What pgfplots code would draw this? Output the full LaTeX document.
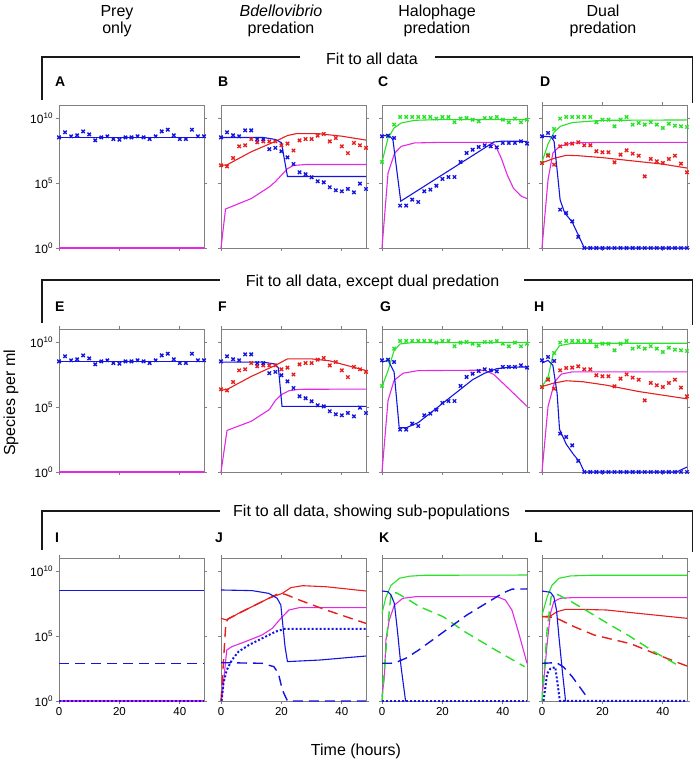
\documentclass[border=0pt]{standalone}
\usepackage{fontspec}
\setmainfont{Liberation Sans}
\usepackage{pgfplots}
\pgfplotsset{compat=1.18}
\usepackage{pgfplotstable}

\definecolor{colB}{RGB}{20,20,225}
\definecolor{colR}{RGB}{232,30,30}
\definecolor{colG}{RGB}{40,225,40}
\definecolor{colM}{RGB}{228,40,228}
\definecolor{colF}{RGB}{128,128,128}

\newcommand\tp[1]{10\raisebox{5pt}{\fontsize{8}{8}\selectfont #1}}

\pgfplotsset{
  panel/.style={scale only axis, width=145pt, height=143pt, xmin=0, xmax=48, ymin=0, ymax=11,
    axis line style={colF, line width=0.9pt}, tick style={colF, line width=0.8pt},
    tick align=outside, major tick length=3pt,
    xtick={0,20,40}, ytick={0,5,10}, xticklabels={}, yticklabels={},
    clip=false, anchor=south west},
  ylab/.style={yticklabels={\tp{0},\tp{5},\tp{10}}, yticklabel style={font=\fontsize{12}{12}\selectfont}},
  xlab/.style={xticklabels={0,20,40}, xticklabel style={font=\fontsize{11.5}{12}\selectfont}},
  datpt/.style={only marks, mark=x, mark size=2.4pt, mark options={line width=1.35pt, solid}},
  fitln/.style={no marks, solid, line width=1.1pt},
  dashln/.style={no marks, line width=1.4pt, dash pattern=on 10pt off 6pt},
  dotln/.style={no marks, line width=2pt, dash pattern=on 2pt off 2pt},
}

% measured data (log10 of species per ml)
\pgfplotstableread{
t b
0 8.51
2 8.90
4 8.59
6 8.67
8 8.97
10 8.74
12 8.28
14 8.51
16 8.59
18 8.38
20 8.33
22 8.51
24 8.51
26 8.59
28 8.51
30 8.38
32 8.59
34 8.97
36 9.10
38 8.67
40 8.38
42 8.38
44 9.10
46 8.59
48 8.59
}\datA

\pgfplotstableread{
t b r
0 8.51 6.36
2 8.90 6.28
4 8.67 6.92
6 8.59 7.82
8 9.05 7.90
10 9.05 8.38
12 8.38 8.13
14 8.38 8.20
16 7.60 8.20
18 7.70 8.20
20 7.44 7.90
22 6.97 8.03
24 6.46 7.50
26 5.82 8.28
28 5.67 8.38
30 5.44 8.38
32 5.13 8.64
34 5.05 8.77
36 4.67 8.20
38 4.44 8.46
40 4.36 7.82
42 4.54 7.30
44 4.28 8.08
46 4.95 7.90
48 4.54 7.70
}\datB

\pgfplotstableread{
t g b
0 6.62 8.59
2 8.60 8.64
4 9.49 8.46
6 10.08 3.26
8 10.08 3.26
10 10.08 3.72
12 10.08 3.54
14 10.08 4.36
16 10.08 4.49
18 9.95 4.79
20 10.08 5.31
22 10.08 5.46
24 9.67 5.46
26 9.95 6.62
28 10.00 7.31
30 9.87 7.56
32 9.74 7.77
34 10.00 7.90
36 10.00 7.82
38 10.08 7.74
40 9.87 8.08
42 9.67 8.08
44 9.95 8.08
46 9.67 8.21
48 9.87 8.03
}\datC

\pgfplotstableread{
t g b r
0 6.54 8.59 6.54
2 7.18 8.85 7.10
4 9.15 8.54 6.41
6 9.95 2.95 7.82
8 10.08 2.69 8.00
10 10.08 2.05 8.03
12 10.08 0.85 8.13
14 10.08 0 7.90
16 10.08 0 7.90
18 9.67 0 7.44
20 9.87 0 7.36
22 9.87 0 7.36
24 9.36 0 6.59
26 9.87 0 7.18
28 10.08 0 7.51
30 9.49 0 7.26
32 9.62 0 7.10
34 9.49 0 5.51
36 9.67 0 6.85
38 9.49 0 6.67
40 9.23 0 6.54
42 9.56 0 6.85
44 9.41 0 7.10
46 9.36 0 6.49
48 9.31 0 5.82
}\datD

\begin{document}
\begin{tikzpicture}[x=1pt,y=1pt]
\useasboundingbox (0,0) rectangle (696,760);

% ---------------- Row 1 ----------------
\begin{axis}[panel, ylab, xtick pos=left, at={(59pt,512pt)}]
\addplot[fitln, colM] coordinates {(0,0)(48,0)};
\addplot[fitln, colB] coordinates {(0,8.5)(48,8.5)};
\addplot[datpt, colB] table[x=t,y=b]{\datA};
\end{axis}

\begin{axis}[panel, xtick pos=left, at={(221pt,512pt)}]
\addplot[fitln, colM] coordinates {(0,0)(1.5,3.0)(10,3.8)(16,4.7)(18,5.1)(20,5.6)(22,6.1)(24,6.35)(28,6.42)(48,6.42)};
\addplot[fitln, colR] coordinates {(0,6.35)(2,6.4)(10,7.4)(18,8.2)(22,8.65)(25,8.8)(32,8.8)(40,8.6)(48,8.3)};
\addplot[fitln, colB] coordinates {(0,8.5)(14,8.5)(18,8.35)(20,8.1)(22,5.5)(48,5.5)};
\addplot[datpt, colR] table[x=t,y=r]{\datB};
\addplot[datpt, colB] table[x=t,y=b]{\datB};
\end{axis}

\begin{axis}[panel, xtick pos=left, at={(382pt,512pt)}]
\addplot[fitln, colM] coordinates {(0,0)(2,5.77)(4.2,7.3)(6.4,7.82)(10.8,8.08)(20,8.13)(36,8.13)(37.5,7.9)(39.5,6.9)(41.5,5.6)(43.5,4.6)(46,4.0)(48,3.8)};
\addplot[fitln, colG] coordinates {(0,6.62)(2,8.46)(4,9.23)(6.4,9.62)(10.8,9.82)(17.4,9.87)(48,9.87)};
\addplot[fitln, colB] coordinates {(0,8.6)(2,8.7)(3.6,8.35)(6.2,3.6)(34,7.7)(37,8.15)(40,8.22)(48,8.2)};
\addplot[datpt, colG] table[x=t,y=g]{\datC};
\addplot[datpt, colB] table[x=t,y=b]{\datC};
\end{axis}

\begin{axis}[panel, at={(542pt,512pt)}]
\addplot[fitln, colM] coordinates {(0,0)(2,5.26)(3.6,7.3)(5.8,7.82)(10,8.08)(20,8.13)(48,8.13)};
\addplot[fitln, colR] coordinates {(0,6.55)(4,6.9)(8,7.13)(12,7.1)(20,6.95)(30,6.7)(40,6.45)(48,6.15)};
\addplot[fitln, colG] coordinates {(0,6.6)(2,8.0)(4,8.9)(6,9.35)(10,9.65)(20,9.82)(48,9.85)};
\addplot[fitln, colB] coordinates {(0,8.6)(3,8.55)(4,8.2)(5,6.0)(6,3.7)(7.5,2.7)(10,2.0)(12,1.0)(14,0)(48,0)};
\addplot[datpt, colG] table[x=t,y=g]{\datD};
\addplot[datpt, colR] table[x=t,y=r]{\datD};
\addplot[datpt, colB] table[x=t,y=b]{\datD};
\end{axis}

% ---------------- Row 2 ----------------
\begin{axis}[panel, ylab, at={(59pt,288pt)}]
\addplot[fitln, colM] coordinates {(0,0)(48,0)};
\addplot[fitln, colB] coordinates {(0,8.5)(48,8.5)};
\addplot[datpt, colB] table[x=t,y=b]{\datA};
\end{axis}

\begin{axis}[panel, at={(221pt,288pt)}]
\addplot[fitln, colM] coordinates {(0,0)(2,3.2)(10,3.9)(16,4.8)(18,5.5)(20,5.95)(22.5,6.25)(26,6.36)(48,6.38)};
\addplot[fitln, colR] coordinates {(0,6.3)(2,6.35)(10,7.35)(18,8.2)(22,8.7)(30,8.7)(36,8.55)(40,8.3)(48,7.8)};
\addplot[fitln, colB] coordinates {(0,8.45)(14,8.45)(18,8.3)(19,8.0)(20.2,5.05)(48,5.05)};
\addplot[datpt, colR] table[x=t,y=r]{\datB};
\addplot[datpt, colB] table[x=t,y=b]{\datB};
\end{axis}

\begin{axis}[panel, at={(382pt,288pt)}]
\addplot[fitln, colM] coordinates {(0,0)(2,5.5)(4,7.05)(7,7.6)(12,7.8)(34,7.83)(37,7.5)(42,6.4)(48,5.05)};
\addplot[fitln, colG] coordinates {(0,6.57)(2,7.8)(4,9.35)(6,9.85)(10,9.95)(48,9.97)};
\addplot[fitln, colB] coordinates {(0,8.45)(2,8.6)(4,7.7)(5.7,3.4)(8,3.4)(12,3.8)(18,4.9)(24,6.0)(30,7.1)(34,7.6)(38,7.95)(42,8.05)(48,8.08)};
\addplot[datpt, colG] table[x=t,y=g]{\datC};
\addplot[datpt, colB] table[x=t,y=b]{\datC};
\end{axis}

\begin{axis}[panel, at={(542pt,288pt)}]
\addplot[fitln, colM] coordinates {(0,0)(2,5.05)(4.2,6.94)(6.4,7.53)(10,7.7)(48,7.7)};
\addplot[fitln, colR] coordinates {(0,6.57)(3.6,6.82)(8,7.02)(13.6,6.94)(21,6.69)(32,6.19)(48,5.63)};
\addplot[fitln, colG] coordinates {(0,6.57)(2,7.3)(3.6,8.97)(5.8,9.72)(10,9.9)(48,9.9)};
\addplot[fitln, colB] coordinates {(0,8.38)(2,8.59)(3.6,8.2)(5,6.06)(5.8,3.28)(8,2.15)(10.3,1.39)(12.5,0.76)(14,0)(44.5,0)(48,0.38)};
\addplot[datpt, colG] table[x=t,y=g]{\datD};
\addplot[datpt, colR] table[x=t,y=r]{\datD};
\addplot[datpt, colB] table[x=t,y=b]{\datD};
\end{axis}

% ---------------- Row 3 ----------------
\begin{axis}[panel, ylab, xlab, at={(59pt,59pt)}]
\addplot[fitln, colM] coordinates {(0,0)(48,0)};
\addplot[dotln, colB] coordinates {(0,0)(48,0)};
\addplot[dashln, colB] coordinates {(0,2.9)(48,2.9)};
\addplot[fitln, colB] coordinates {(0,8.49)(48,8.49)};
\end{axis}

\begin{axis}[panel, xlab, at={(221pt,59pt)}]
\addplot[fitln, colM] coordinates {(0.2,0)(1.9,3.92)(3.6,4.18)(8,4.56)(13.6,5.08)(17,5.59)(19.8,6.36)(22.5,7.0)(25.9,7.18)(48,7.18)};
\addplot[fitln, colR] coordinates {(0,6.36)(1.9,6.23)(5.8,6.74)(10.3,7.26)(15.8,7.9)(20.3,8.28)(23.1,8.72)(27,8.87)(34.8,8.79)(48,8.46)};
\addplot[dashln, colR] coordinates {(0,0)(0.8,3.0)(1.6,5.97)(2.2,6.3)(5.8,6.74)(10.3,7.26)(15.8,7.9)(19.2,8.28)(21.4,8.2)(25.9,7.77)(34.8,7.0)(48,5.97)};
\addplot[dotln, colB] coordinates {(0.2,0)(0.8,1.36)(1.9,2.38)(3.6,3.15)(5.8,3.8)(9.2,4.3)(13.6,4.82)(18,5.33)(20.9,5.54)(48,5.54)};
\addplot[dashln, colB] coordinates {(0,2.95)(13.6,2.9)(17.5,2.64)(19,2.13)(20.3,0.85)(22,0)(48,0)};
\addplot[fitln, colB] coordinates {(0,8.54)(10.3,8.49)(15.8,8.28)(18.6,7.9)(19.8,7.38)(20.3,6.23)(21.2,4.18)(22,3.03)(32.6,3.15)(48,3.46)};
\end{axis}

\begin{axis}[panel, xlab, at={(382pt,59pt)}]
\addplot[fitln, colM] coordinates {(0,0.33)(0.8,1.9)(1.3,4.7)(2.4,6.23)(4.1,7.38)(6.9,7.9)(11.3,8.03)(38,8.03)(40.8,7.77)(43,7.0)(45.3,5.2)(48,2.9)};
\addplot[fitln, colG] coordinates {(0,6.74)(1.3,8.0)(3,8.9)(5.8,9.44)(9.1,9.6)(14,9.67)(48,9.69)};
\addplot[dashln, colG] coordinates {(0,0)(0.8,2.4)(1.9,5.7)(3,8.28)(4.7,8.33)(8,7.9)(12.4,7.26)(20.2,6.49)(27.4,5.33)(37,4.0)(47.2,2.64)};
\addplot[dotln, colB] coordinates {(0,0)(48,0)};
\addplot[dashln, colB] coordinates {(0,2.9)(3,2.9)(5,3.0)(8,3.3)(12,3.9)(28,6.6)(40,8.3)(43,8.6)(48,8.62)};
\addplot[fitln, colB] coordinates {(0,8.46)(1.9,8.41)(3,8.15)(4.1,7.5)(5.2,5.2)(6.3,2.64)(7.8,0)};
\end{axis}

\begin{axis}[panel, xlab, at={(542pt,59pt)}]
\addplot[fitln, colM] coordinates {(0,0.5)(0.5,1.3)(1.7,4.4)(2.8,6.74)(3.9,7.64)(6,7.9)(10,7.95)(48,7.95)};
\addplot[fitln, colR] coordinates {(0,6.49)(2.8,6.54)(5,6.87)(7.8,7.05)(12.8,7.05)(21.4,7.0)(29.4,6.8)(48,6.36)};
\addplot[dashln, colR] coordinates {(0,6.49)(3.9,6.44)(6.1,6.23)(10.6,5.72)(17.2,5.08)(29.4,4.4)(40,3.4)(48,2.69)};
\addplot[fitln, colG] coordinates {(0,6.6)(1.7,8.0)(3.3,8.9)(5.6,9.44)(9.4,9.62)(16,9.67)(48,9.67)};
\addplot[dashln, colG] coordinates {(0,0)(0.8,2.5)(1.7,5.5)(3,8.0)(4.2,8.28)(6,8.1)(10,7.6)(14.4,7.0)(22.2,5.9)(28.9,5.0)(37,3.8)(45.8,2.64)};
\addplot[dotln, colB] coordinates {(0.5,0)(1.7,2.1)(2.8,2.5)(4.4,2.6)(5,1.6)(5.9,0)(48,0)};
\addplot[dashln, colB] coordinates {(0,2.9)(4.8,2.95)(7.2,2.6)(10,1.87)(14.4,0.46)};
\addplot[fitln, colB] coordinates {(0,8.46)(2.8,8.36)(3.9,8.03)(4.8,7.0)(5.6,4.95)(6.7,2.38)(7.8,0)};
\end{axis}

% ---------------- Texts ----------------
\begin{scope}[font=\fontsize{16}{18}\selectfont]
\node[anchor=base] at (117,743.3) {Prey};
\node[anchor=base] at (117,726.7) {only};
\node[anchor=base] at (281,743.3) {\textit{Bdellovibrio}};
\node[anchor=base] at (281,726.7) {predation};
\node[anchor=base] at (437,743.3) {Halophage};
\node[anchor=base] at (437,726.7) {predation};
\node[anchor=base] at (603,743.3) {Dual};
\node[anchor=base] at (603,726.7) {predation};

\node[anchor=base] at (372,695) {Fit to all data};
\node[anchor=base] at (372.5,473.3) {Fit to all data, except dual predation};
\node[anchor=base] at (371.5,243) {Fit to all data, showing sub-populations};

\node[rotate=90] at (11,357) {Species per ml};
\node[anchor=base] at (356,5) {Time (hours)};
\end{scope}

\begin{scope}[line width=1.5pt, black!90]
\draw (42,660) -- (42,703) -- (300,703);
\draw (435,703) -- (692.5,703) -- (692.5,657);
\draw (42,437) -- (42,480) -- (220,480);
\draw (524,480) -- (692.5,480) -- (692.5,435);
\draw (42,210) -- (42,249) -- (220,249);
\draw (525,249) -- (692.5,249) -- (692.5,208);
\end{scope}

\begin{scope}[font=\fontsize{14}{16}\selectfont\bfseries]
\node[anchor=base west, inner sep=0] at (55,673) {A};
\node[anchor=base west, inner sep=0] at (218,673) {B};
\node[anchor=base west, inner sep=0] at (378,673) {C};
\node[anchor=base west, inner sep=0] at (540,673) {D};
\node[anchor=base west, inner sep=0] at (55,448) {E};
\node[anchor=base west, inner sep=0] at (218,448) {F};
\node[anchor=base west, inner sep=0] at (380,448) {G};
\node[anchor=base west, inner sep=0] at (534,448) {H};
\node[anchor=base west, inner sep=0] at (55,217) {I};
\node[anchor=base west, inner sep=0] at (215,217) {J};
\node[anchor=base west, inner sep=0] at (379,217) {K};
\node[anchor=base west, inner sep=0] at (534,217) {L};
\end{scope}
\end{tikzpicture}
\end{document}
